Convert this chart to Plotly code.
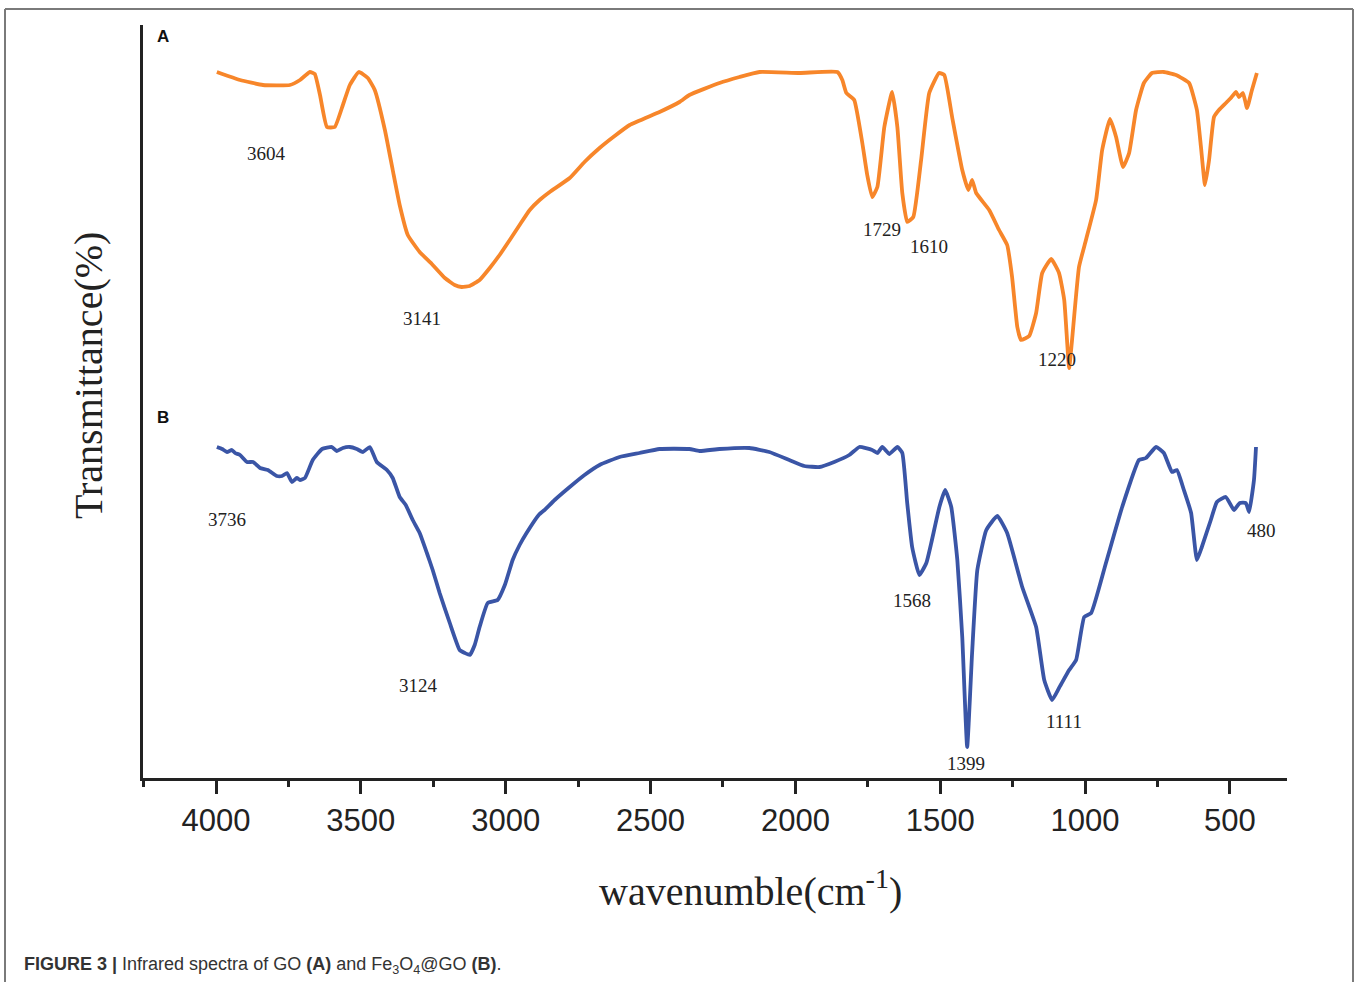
import plotly.graph_objects as go

# ---- data (wavenumber cm^-1, transmittance a.u.) ----
go_wavenumber = [3997, 3917, 3838, 3745, 3710, 3676, 3659, 3641, 3617, 3590, 3562, 3538, 3507, 3476, 3452,
                 3417, 3390, 3366, 3338, 3297, 3255, 3210, 3176, 3152, 3124, 3090, 3055, 3021, 2986, 2952,
                 2917, 2883, 2848, 2779, 2728, 2676, 2624, 2572, 2469, 2400, 2366, 2262, 2193, 2124, 1986,
                 1855, 1838, 1824, 1797, 1769, 1752, 1735, 1717, 1693, 1666, 1648, 1631, 1614, 1593, 1566,
                 1538, 1504, 1486, 1459, 1424, 1403, 1390, 1376, 1331, 1297, 1269, 1252, 1234, 1221, 1193,
                 1169, 1148, 1117, 1090, 1072, 1055, 1045, 1021, 997, 962, 941, 914, 893, 869, 848, 824,
                 797, 769, 728, 686, 641, 614, 600, 586, 572, 555, 538, 514, 497, 479, 469, 455, 441, 424, 407]
go_transmittance = [706, 698, 693, 693, 698, 706, 704, 683, 651, 651, 673, 693, 706, 700, 688,
                    648, 608, 573, 543, 526, 514, 500, 493, 491, 492, 498, 510, 523, 538, 553,
                    568, 578, 586, 600, 616, 630, 642, 653, 666, 676, 683, 695, 701, 706, 705,
                    706, 698, 685, 678, 635, 603, 581, 591, 651, 686, 651, 585, 556, 561, 618,
                    685, 705, 703, 661, 608, 588, 598, 585, 568, 548, 533, 501, 451, 438, 442,
                    465, 505, 519, 505, 478, 410, 438, 511, 538, 578, 628, 659, 641, 611, 625, 668,
                    695, 705, 706, 703, 695, 668, 631, 593, 618, 661, 668, 675, 680, 686, 681, 685, 670, 688, 705]

fego_wavenumber = [3997, 3979, 3962, 3945, 3934, 3917, 3893, 3872, 3848, 3821, 3790, 3772, 3755, 3738, 3721,
                   3710, 3693, 3666, 3634, 3600, 3583, 3562, 3538, 3514, 3493, 3469, 3445, 3410, 3390, 3366,
                   3345, 3321, 3297, 3272, 3252, 3228, 3193, 3159, 3141, 3124, 3107, 3090, 3062, 3028, 3003,
                   2976, 2952, 2928, 2886, 2866, 2831, 2779, 2728, 2676, 2607, 2538, 2469, 2366, 2331, 2262,
                   2159, 2090, 2021, 1969, 1917, 1866, 1814, 1779, 1735, 1717, 1700, 1676, 1648, 1631, 1614,
                   1597, 1572, 1548, 1531, 1503, 1483, 1462, 1441, 1424, 1407, 1390, 1372, 1341, 1303, 1269,
                   1217, 1169, 1141, 1114, 1090, 1055, 1031, 1003, 979, 928, 872, 814, 790, 755, 728, 700,
                   683, 659, 634, 614, 597, 566, 545, 514, 486, 466, 445, 434, 417, 410]
fego_transmittance = [331, 329, 326, 328, 325, 323, 316, 316, 310, 308, 302, 302, 305, 296, 300,
                      298, 300, 318, 329, 331, 327, 330, 331, 329, 326, 331, 316, 308, 300, 281,
                      273, 258, 245, 225, 208, 185, 155, 128, 125, 123, 133, 151, 175, 178, 193,
                      218, 233, 245, 263, 268, 278, 291, 303, 313, 321, 325, 329, 329, 327, 329,
                      330, 326, 318, 312, 311, 316, 323, 331, 328, 325, 331, 324, 331, 325, 275,
                      231, 203, 215, 235, 271, 288, 271, 218, 141, 31, 125, 208, 248, 262, 245,
                      191, 151, 98, 78, 90, 108, 118, 161, 165, 215, 271, 318, 320, 331, 325, 306,
                      308, 288, 265, 218, 231, 258, 276, 281, 268, 275, 275, 266, 298, 331]

peak_labels = ["3604", "3141", "1729", "1610", "1220", "3736", "3124", "1568", "1399", "1111", "480"]
peak_label_x = [3824, 3290, 1700, 1538, 1097, 3962, 3300, 1597, 1410, 1072, 390]
peak_label_y = [625, 460, 549, 532, 419, 259, 93, 178, 15, 57, 248]

x_tick_vals = [4000, 3500, 3000, 2500, 2000, 1500, 1000, 500]
x_minor_vals = [4250, 3750, 3250, 2750, 2250, 1750, 1250, 750]

fig = go.Figure()
fig.add_trace(go.Scatter(x=go_wavenumber, y=go_transmittance, mode="lines",
                         line=dict(color="#F7862A", width=3.8, shape="spline", smoothing=0.4),
                         name="GO", showlegend=False, hoverinfo="skip"))
fig.add_trace(go.Scatter(x=fego_wavenumber, y=fego_transmittance, mode="lines",
                         line=dict(color="#3A55A6", width=3.8, shape="spline", smoothing=0.4),
                         name="Fe3O4@GO", showlegend=False, hoverinfo="skip"))

for t, xv, yv in zip(peak_labels, peak_label_x, peak_label_y):
    fig.add_annotation(x=xv, y=yv, text=t, showarrow=False, xref="x", yref="y",
                       xanchor="center", yanchor="middle",
                       font=dict(family="Liberation Serif", size=19, color="#222"))

W, H = 1357, 982
L, R, T, B = 143, 70, 25, 204
pw, ph = W - L - R, H - T - B


def px(xp):
    return (xp - L) / pw


def py(yp):
    return (H - B - yp) / ph


def paper_text(xp, yp, text, font, **kw):
    opts = dict(xanchor="center", yanchor="middle")
    opts.update(kw)
    fig.add_annotation(x=px(xp), y=py(yp), xref="paper", yref="paper", text=text,
                       showarrow=False, font=font, **opts)


paper_text(163, 37, "<b>A</b>", dict(family="Liberation Sans", size=17, color="#111"))
paper_text(163, 417, "<b>B</b>", dict(family="Liberation Sans", size=17, color="#111"))
paper_text(88, 376, "Transmittance(%)", dict(family="Liberation Serif", size=40, color="#222"),
           textangle=-90)
paper_text(750, 888, "wavenumble(cm<sup>-1</sup>)", dict(family="Liberation Serif", size=40, color="#222"))
paper_text(22, 965,
           "<b>FIGURE 3 |</b> Infrared spectra of GO <b>(A)</b> and Fe<sub>3</sub>O<sub>4</sub>@GO <b>(B)</b>.",
           dict(family="Liberation Sans", size=18, color="#333"), xanchor="left")

# outer frame
frame_col = "#7a7a7a"
fig.add_shape(type="line", xref="paper", yref="paper", x0=px(5), x1=px(1353), y0=py(9), y1=py(9),
              line=dict(color=frame_col, width=2))
fig.add_shape(type="line", xref="paper", yref="paper", x0=px(5), x1=px(5), y0=py(9), y1=py(990),
              line=dict(color=frame_col, width=2))
fig.add_shape(type="line", xref="paper", yref="paper", x0=px(1353), x1=px(1353), y0=py(9), y1=py(990),
              line=dict(color=frame_col, width=2))

fig.update_xaxes(range=[4252, 303], tickvals=x_tick_vals, ticktext=[str(v) for v in x_tick_vals],
                 ticks="outside", ticklen=13, tickwidth=3, tickcolor="#222",
                 minor=dict(tickvals=x_minor_vals, ticks="outside",
                            ticklen=6, tickwidth=3, tickcolor="#222"),
                 showline=True, linecolor="#222", linewidth=3, showgrid=False, zeroline=False,
                 tickfont=dict(family="Liberation Sans", size=31, color="#222"))
fig.update_yaxes(range=[0, ph], showline=True, linecolor="#222", linewidth=3, showgrid=False,
                 zeroline=False, showticklabels=False, ticks="")

fig.update_layout(width=W, height=H, margin=dict(l=L, r=R, t=T, b=B, autoexpand=False),
                  plot_bgcolor="white", paper_bgcolor="white")

fig.write_html("out.html")
